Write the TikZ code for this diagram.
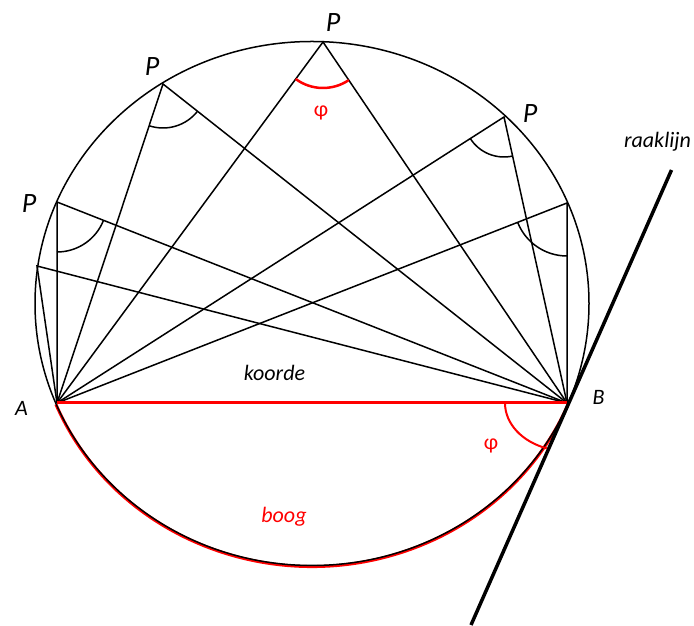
\documentclass[tikz,border=0pt]{standalone}
\usepackage{fontspec}
\setmainfont{Carlito}
\usetikzlibrary{angles}
\tikzset{
  lbl/.style={font=\fontsize{22}{26}\selectfont\itshape, anchor=base},
  plbl/.style={font=\fontsize{28}{32}\selectfont\itshape, anchor=base},
  philbl/.style={font=\fontsize{22}{26}\selectfont, text=red},
  thinline/.style={line width=1.5pt}
}
\begin{document}
\begin{tikzpicture}[x=1pt,y=1pt]
    \useasboundingbox (0,0) rectangle (694,626);
    % punten
    \coordinate (M) at (312,322.5);
    \coordinate (A) at (57,223);
    \coordinate (B) at (567,223);
    \coordinate (P1) at (323,584);
    \coordinate (P2) at (163,542);
    \coordinate (P3) at (57,424);
    \coordinate (P4) at (37,360);
    \coordinate (P5) at (504,509);
    \coordinate (P6) at (567,423);
    \coordinate (t1) at (471,1);
    \coordinate (t2) at (671.5,456);

    % boog
    \draw[red, line width=3pt, yshift=-1pt] ([shift={(312,322.5)}]202.4:277 and 262) arc[start angle=202.4, end angle=337.6, x radius=277, y radius=262];
    % cirkel
    \draw[thinline] (M) ellipse[x radius=277, y radius=262];

    % lijnen naar P
    \foreach \p in {P1,P2,P3,P4,P5,P6}
        \draw[thinline] (A) -- (\p) -- (B);

    % hoeken bij P
    \pic[draw=red, line width=2.5pt, angle radius=46pt] {angle=A--P1--B};
    \pic[draw, thinline, angle radius=44pt] {angle=A--P2--B};
    \pic[draw, thinline, angle radius=50pt] {angle=A--P3--B};
    \pic[draw, thinline, angle radius=40pt] {angle=A--P5--B};
    \pic[draw, thinline, angle radius=53pt] {angle=A--P6--B};

    % koorde en raaklijn
    \draw[red, line width=3pt] (A) -- (B);
    \draw[line width=3.5pt] (t1) -- (t2);
    \draw[red, line width=2pt] ([shift={(B)}]180:62 and 48) arc[start angle=180, end angle=251, x radius=62, y radius=48];

    % teksten
    \node[plbl] (lP1) at (333,594) {P};
    \node[plbl] (lP2) at (152,550) {P};
    \node[plbl] (lP3) at (29,413) {P};
    \node[plbl] (lP5) at (530,503) {P};
    \node[lbl] (lA) at (21.5,210) {A};
    \node[lbl] (lB) at (598.5,221) {B};
    \node[lbl] (koorde) at (274.5,245) {koorde};
    \node[lbl, text=red] (boog) at (284,103) {boog};
    \node[lbl] (raaklijn) at (657.5,478) {raaklijn};
    \node[philbl] (phiP) at (321,513) {φ};
    \node[philbl] (phiB) at (491,180.5) {φ};
\end{tikzpicture}
\end{document}
